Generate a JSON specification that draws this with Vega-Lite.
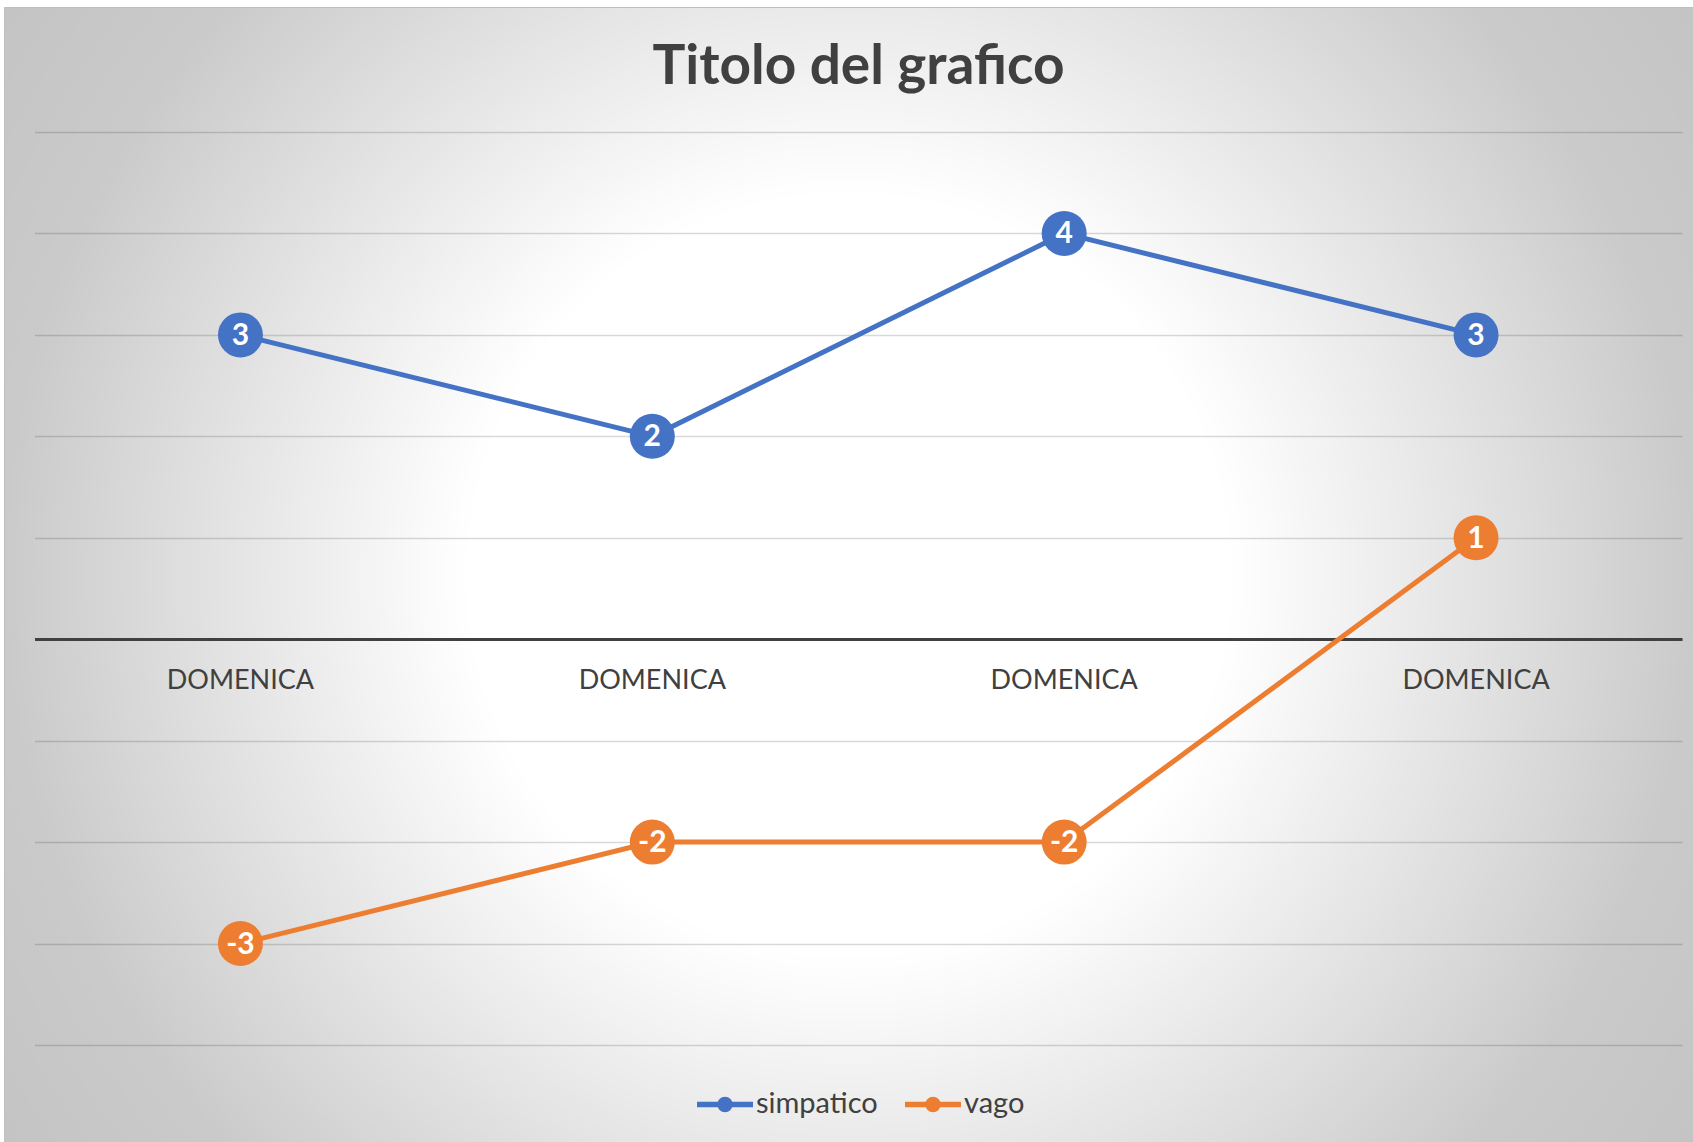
{
  "$schema": "https://vega.github.io/schema/vega-lite/v6.json",
  "width": 1689,
  "height": 1135,
  "autosize": {"type": "none"},
  "padding": {"left": 4, "top": 7, "right": 0, "bottom": 0},
  "background": "#ffffff",
  "view": {
    "fill": {
      "gradient": "radial",
      "x1": 0.5, "y1": 0.5, "r1": 0,
      "x2": 0.5, "y2": 0.5, "r2": 0.6,
      "stops": [
        {"offset": 0, "color": "#ffffff"},
        {"offset": 0.375, "color": "#ffffff"},
        {"offset": 0.834, "color": "#cacaca"},
        {"offset": 1, "color": "#c4c4c4"}
      ]
    },
    "stroke": "#bfbfbf",
    "strokeWidth": 1
  },
  "title": {
    "text": "Titolo del grafico",
    "font": "Lato",
    "fontSize": 55,
    "fontWeight": "bold",
    "color": "#404040",
    "anchor": "middle",
    "frame": "group",
    "baseline": "alphabetic",
    "offset": -132,
    "dx": 10
  },
  "data": {
    "values": [
      {"idx": 1, "giorno": "DOMENICA", "serie": "simpatico", "valore": 3},
      {"idx": 2, "giorno": "DOMENICA", "serie": "simpatico", "valore": 2},
      {"idx": 3, "giorno": "DOMENICA", "serie": "simpatico", "valore": 4},
      {"idx": 4, "giorno": "DOMENICA", "serie": "simpatico", "valore": 3},
      {"idx": 1, "giorno": "DOMENICA", "serie": "vago", "valore": -3},
      {"idx": 2, "giorno": "DOMENICA", "serie": "vago", "valore": -2},
      {"idx": 3, "giorno": "DOMENICA", "serie": "vago", "valore": -2},
      {"idx": 4, "giorno": "DOMENICA", "serie": "vago", "valore": 1}
    ]
  },
  "encoding": {
    "x": {
      "field": "idx",
      "type": "ordinal",
      "scale": {"type": "band", "range": [30.5, 1678], "paddingInner": 0, "paddingOuter": 0},
      "axis": {
        "title": null,
        "labelExpr": "'DOMENICA'",
        "labelAngle": 0,
        "labelFont": "Lato",
        "labelFontSize": 27,
        "labelColor": "#404040",
        "labelPadding": 28,
        "ticks": false,
        "tickSize": 0,
        "domain": true,
        "domainColor": "#404040",
        "domainWidth": 3,
        "offset": -503,
        "grid": false
      }
    },
    "y": {
      "field": "valore",
      "type": "quantitative",
      "scale": {"domain": [-4, 5], "range": [1038, 125], "nice": false, "zero": false},
      "axis": {
        "title": null,
        "values": [-4, -3, -2, -1, 0, 1, 2, 3, 4, 5],
        "labels": false,
        "ticks": false,
        "domain": false,
        "grid": true,
        "gridColor": "#000000",
        "gridOpacity": 0.15,
        "gridWidth": 1.5
      }
    }
  },
  "layer": [
    {
      "mark": {"type": "line", "strokeWidth": 5},
      "encoding": {
        "color": {
          "field": "serie",
          "type": "nominal",
          "scale": {"domain": ["simpatico", "vago"], "range": ["#4472C4", "#ED7D31"]},
          "legend": {
            "orient": "none",
            "legendX": 690,
            "legendY": 1066,
            "direction": "horizontal",
            "title": null,
            "padding": 0,
            "labelFont": "Lato",
            "labelFontSize": 29,
            "labelColor": "#404040",
            "labelOffset": 0,
            "columnPadding": 16,
            "symbolType": "M-1,0H1M-0.18,0A0.18,0.18,0,1,1,0.18,0A0.18,0.18,0,1,1,-0.18,0Z",
            "symbolSize": 3136,
            "symbolStrokeWidth": 5.5,
            "symbolOpacity": 1,
            "encode": {
              "symbols": {
                "update": {
                  "fill": {"scale": "color", "field": "value"},
                  "stroke": {"scale": "color", "field": "value"},
                  "strokeWidth": {"value": 5.5},
                  "opacity": {"value": 1}
                }
              }
            }
          }
        }
      }
    },
    {
      "mark": {"type": "circle", "size": 2025, "opacity": 1},
      "encoding": {
        "color": {"field": "serie", "type": "nominal"}
      }
    },
    {
      "mark": {
        "type": "text",
        "color": "#ffffff",
        "font": "Lato",
        "fontSize": 30,
        "fontWeight": "bold",
        "align": "center",
        "baseline": "middle",
        "dy": 1
      },
      "encoding": {
        "text": {"field": "valore", "type": "nominal"}
      }
    }
  ]
}
